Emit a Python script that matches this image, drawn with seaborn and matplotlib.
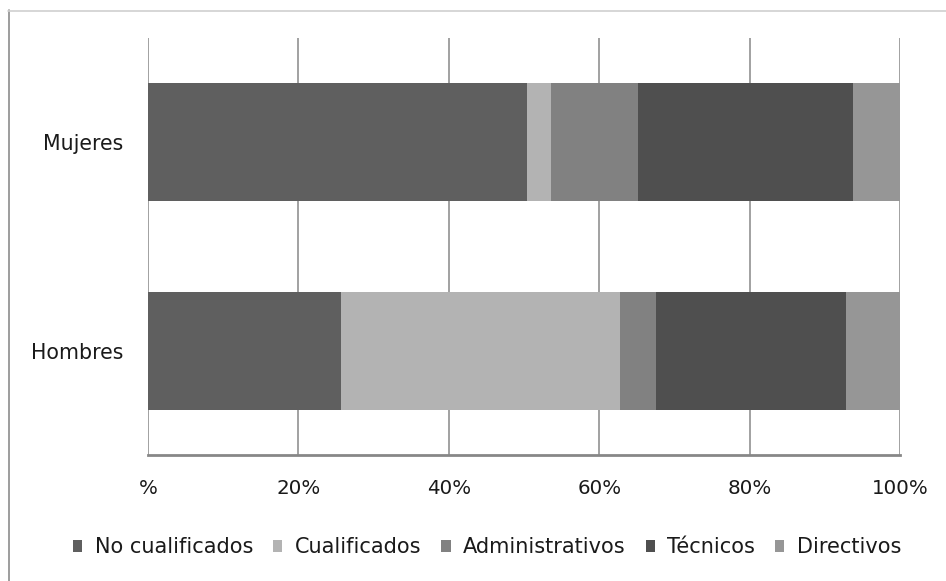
import numpy as np
import pandas as pd
import matplotlib
matplotlib.use("Agg")
import matplotlib.pyplot as plt
import seaborn as sns
from matplotlib.patches import Patch
from matplotlib.lines import Line2D

categories = ["Mujeres", "Hombres"]
series = ["No cualificados", "Cualificados", "Administrativos", "Técnicos", "Directivos"]
no_cualificados = [50.4, 25.7]
cualificados = [3.2, 37.1]
administrativos = [11.5, 4.7]
tecnicos = [28.6, 25.3]
directivos = [6.3, 7.2]
colors = ["#5f5f5f", "#b3b3b3", "#818181", "#4f4f4f", "#969696"]
tick_values = [0, 20, 40, 60, 80, 100]
tick_labels = ["%", "20%", "40%", "60%", "80%", "100%"]

sns.set_theme(style="white")
plt.rcParams['font.family'] = ['DejaVu Sans']

values = np.array([no_cualificados, cualificados, administrativos, tecnicos, directivos])
cum = np.cumsum(values, axis=0)

W, H = 946, 581
fig = plt.figure(figsize=(W / 100, H / 100), dpi=100)
fig.patch.set_facecolor("white")
ax = fig.add_axes([148 / W, 126 / H, 752 / W, 417 / H])

for i in range(len(series) - 1, -1, -1):
    df = pd.DataFrame({"cat": categories, "val": cum[i]})
    sns.barplot(data=df, x="val", y="cat", orient="h", color=colors[i],
                width=0.566, ax=ax, saturation=1, edgecolor="none",
                linewidth=0, zorder=2)

ax.set_xlim(0, 100)
ax.set_ylim(1.5, -0.5)
ax.set_xticks(tick_values)
ax.set_xticklabels(tick_labels)
ax.set_xlabel("")
ax.set_ylabel("")
ax.set_axisbelow(True)
ax.xaxis.grid(True, color="#878787", linewidth=1.1)
ax.yaxis.grid(False)
for s in ["top", "left", "right"]:
    ax.spines[s].set_visible(False)
ax.spines["bottom"].set_color("#878787")
ax.spines["bottom"].set_linewidth(2)
ax.tick_params(axis="x", length=0, pad=17, labelsize=14.3, labelcolor="#1a1a1a")
ax.tick_params(axis="y", length=0, pad=18, labelsize=14.8, labelcolor="#1a1a1a")

handles = [Patch(facecolor=c, edgecolor="none") for c in colors]
fig.legend(handles=handles, labels=series, loc="center",
           bbox_to_anchor=(0.515, 1 - 547 / H), ncol=5, frameon=False,
           handlelength=0.45, handleheight=0.5, handletextpad=0.6,
           columnspacing=0.95, fontsize=15, labelcolor="#1a1a1a")

fig.add_artist(Line2D([8.5 / W, 8.5 / W], [0, 1 - 10 / H], transform=fig.transFigure,
                      color="#8c8c8c", linewidth=1.2))
fig.add_artist(Line2D([8 / W, 1], [1 - 10.5 / H, 1 - 10.5 / H], transform=fig.transFigure,
                      color="#d0d0d0", linewidth=1.2))

fig.savefig("out.png", dpi=100)
